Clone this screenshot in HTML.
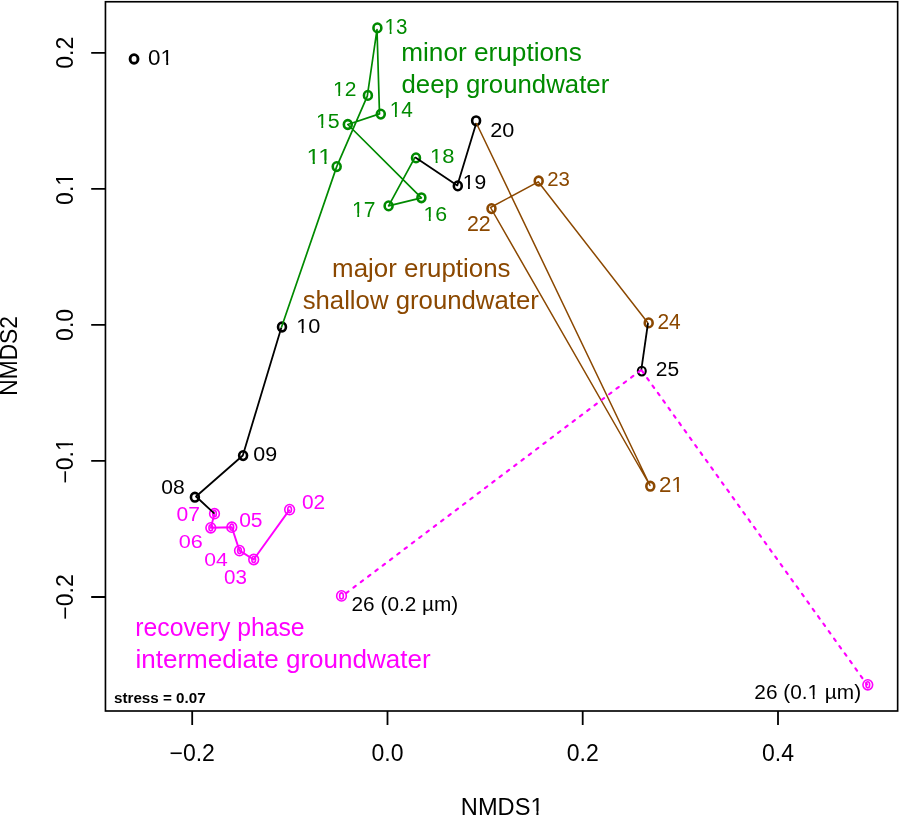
<!DOCTYPE html>
<html><head><meta charset="utf-8"><title>NMDS plot</title><style>html,body{margin:0;padding:0;background:#fff;overflow:hidden}svg{display:block;will-change:transform}</style></head><body>
<svg width="899" height="817" viewBox="0 0 899 817" font-family="Liberation Sans, sans-serif">
<defs><clipPath id="k1" clipPathUnits="userSpaceOnUse"><path clip-rule="evenodd" d="M-1000,-1000H1000V1000H-1000ZM13.050,-3.792H17.766V4.000H13.050ZM19.711,-3.792H24.255V4.000H19.711Z"/></clipPath><clipPath id="k2" clipPathUnits="userSpaceOnUse"><path clip-rule="evenodd" d="M-1000,-1000H1000V1000H-1000ZM0.737,-3.423H4.993V4.000H0.737ZM6.748,-3.423H10.850V4.000H6.748Z"/></clipPath><clipPath id="k3" clipPathUnits="userSpaceOnUse"><path clip-rule="evenodd" d="M-1000,-1000H1000V1000H-1000ZM0.796,-3.697H5.394V4.000H0.796ZM7.289,-3.697H15.730V4.000H7.289ZM17.625,-3.697H22.055V4.000H17.625Z"/></clipPath><clipPath id="k4" clipPathUnits="userSpaceOnUse"><path clip-rule="evenodd" d="M-1000,-1000H1000V1000H-1000ZM0.763,-3.546H5.173V4.000H0.763ZM6.991,-3.546H11.240V4.000H6.991Z"/></clipPath><clipPath id="k5" clipPathUnits="userSpaceOnUse"><path clip-rule="evenodd" d="M-1000,-1000H1000V1000H-1000ZM0.811,-3.767H5.496V4.000H0.811ZM7.428,-3.767H11.942V4.000H7.428Z"/></clipPath><clipPath id="k6" clipPathUnits="userSpaceOnUse"><path clip-rule="evenodd" d="M-1000,-1000H1000V1000H-1000ZM0.807,-3.747H5.467V4.000H0.807ZM7.388,-3.747H11.878V4.000H7.388Z"/></clipPath><clipPath id="k7" clipPathUnits="userSpaceOnUse"><path clip-rule="evenodd" d="M-1000,-1000H1000V1000H-1000ZM0.764,-3.547H5.175V4.000H0.764ZM6.994,-3.547H11.244V4.000H6.994Z"/></clipPath><clipPath id="k8" clipPathUnits="userSpaceOnUse"><path clip-rule="evenodd" d="M-1000,-1000H1000V1000H-1000ZM0.779,-3.620H5.281V4.000H0.779ZM7.137,-3.620H11.474V4.000H7.137Z"/></clipPath><clipPath id="k9" clipPathUnits="userSpaceOnUse"><path clip-rule="evenodd" d="M-1000,-1000H1000V1000H-1000ZM0.812,-3.772H5.503V4.000H0.812ZM7.437,-3.772H11.957V4.000H7.437Z"/></clipPath><clipPath id="k10" clipPathUnits="userSpaceOnUse"><path clip-rule="evenodd" d="M-1000,-1000H1000V1000H-1000ZM0.774,-3.595H5.245V4.000H0.774ZM7.088,-3.595H11.396V4.000H7.088Z"/></clipPath><clipPath id="k11" clipPathUnits="userSpaceOnUse"><path clip-rule="evenodd" d="M-1000,-1000H1000V1000H-1000ZM0.769,-3.570H5.209V4.000H0.769ZM7.040,-3.570H11.318V4.000H7.040Z"/></clipPath><clipPath id="k12" clipPathUnits="userSpaceOnUse"><path clip-rule="evenodd" d="M-1000,-1000H1000V1000H-1000ZM13.050,-3.792H17.766V4.000H13.050ZM19.711,-3.792H24.255V4.000H19.711Z"/></clipPath><clipPath id="k13" clipPathUnits="userSpaceOnUse"><path clip-rule="evenodd" d="M-1000,-1000H1000V1000H-1000ZM51.884,-3.447H56.171V4.000H51.884ZM57.939,-3.447H62.070V4.000H57.939Z"/></clipPath><clipPath id="k14" clipPathUnits="userSpaceOnUse"><path clip-rule="evenodd" d="M-1000,-1000H1000V1000H-1000ZM69.424,-4.014H74.416V4.000H69.424ZM76.474,-4.014H81.283V4.000H76.474Z"/></clipPath><clipPath id="k15" clipPathUnits="userSpaceOnUse"><path clip-rule="evenodd" d="M-1000,-1000H1000V1000H-1000ZM10.764,-3.964H15.694V4.000H10.764ZM17.727,-3.964H22.478V4.000H17.727Z"/></clipPath><clipPath id="k16" clipPathUnits="userSpaceOnUse"><path clip-rule="evenodd" d="M-1000,-1000H1000V1000H-1000ZM4.048,-3.964H8.979V4.000H4.048ZM11.011,-3.964H15.762V4.000H11.011Z"/></clipPath></defs>
<rect width="899" height="817" fill="#fff"/>
<ellipse cx="134.05" cy="58.95" rx="3.95" ry="4.35" fill="none" stroke="#000000" stroke-width="2.9"/>
<g fill="none" stroke="#FF00FF" stroke-width="1.6"><ellipse cx="289.6" cy="509.6" rx="4.85" ry="5.1"/><ellipse cx="289.6" cy="509.6" rx="1.85" ry="3.05"/></g>
<g fill="none" stroke="#FF00FF" stroke-width="1.6"><ellipse cx="253.7" cy="559.5" rx="4.85" ry="5.1"/><ellipse cx="253.7" cy="559.5" rx="1.85" ry="3.05"/></g>
<g fill="none" stroke="#FF00FF" stroke-width="1.6"><ellipse cx="239.5" cy="550.6" rx="4.85" ry="5.1"/><ellipse cx="239.5" cy="550.6" rx="1.85" ry="3.05"/></g>
<g fill="none" stroke="#FF00FF" stroke-width="1.6"><ellipse cx="231.8" cy="527.2" rx="4.85" ry="5.1"/><ellipse cx="231.8" cy="527.2" rx="1.85" ry="3.05"/></g>
<g fill="none" stroke="#FF00FF" stroke-width="1.6"><ellipse cx="210.8" cy="527.8" rx="4.85" ry="5.1"/><ellipse cx="210.8" cy="527.8" rx="1.85" ry="3.05"/></g>
<g fill="none" stroke="#FF00FF" stroke-width="1.6"><ellipse cx="214.5" cy="513.7" rx="4.85" ry="5.1"/><ellipse cx="214.5" cy="513.7" rx="1.85" ry="3.05"/></g>
<ellipse cx="194.9" cy="497.2" rx="3.95" ry="4.35" fill="none" stroke="#000000" stroke-width="2.6"/>
<ellipse cx="243.1" cy="455.6" rx="3.95" ry="4.35" fill="none" stroke="#000000" stroke-width="2.6"/>
<ellipse cx="282.0" cy="327.0" rx="3.95" ry="4.35" fill="none" stroke="#000000" stroke-width="2.6"/>
<ellipse cx="336.7" cy="166.6" rx="3.95" ry="4.35" fill="none" stroke="#008A00" stroke-width="2.6"/>
<ellipse cx="367.9" cy="95.4" rx="3.95" ry="4.35" fill="none" stroke="#008A00" stroke-width="2.6"/>
<ellipse cx="377.4" cy="27.9" rx="3.95" ry="4.35" fill="none" stroke="#008A00" stroke-width="2.6"/>
<ellipse cx="380.8" cy="114.1" rx="3.95" ry="4.35" fill="none" stroke="#008A00" stroke-width="2.6"/>
<ellipse cx="347.8" cy="124.5" rx="3.95" ry="4.35" fill="none" stroke="#008A00" stroke-width="2.6"/>
<ellipse cx="421.4" cy="197.8" rx="3.95" ry="4.35" fill="none" stroke="#008A00" stroke-width="2.6"/>
<ellipse cx="388.6" cy="205.9" rx="3.95" ry="4.35" fill="none" stroke="#008A00" stroke-width="2.6"/>
<ellipse cx="416.0" cy="157.9" rx="3.95" ry="4.35" fill="none" stroke="#008A00" stroke-width="2.6"/>
<ellipse cx="457.8" cy="185.9" rx="3.95" ry="4.35" fill="none" stroke="#000000" stroke-width="2.6"/>
<ellipse cx="476.1" cy="120.8" rx="3.95" ry="4.35" fill="none" stroke="#000000" stroke-width="2.6"/>
<ellipse cx="650.3" cy="486.2" rx="3.95" ry="4.35" fill="none" stroke="#8B4800" stroke-width="2.6"/>
<ellipse cx="491.5" cy="208.6" rx="3.95" ry="4.35" fill="none" stroke="#8B4800" stroke-width="2.6"/>
<ellipse cx="538.7" cy="181.0" rx="3.95" ry="4.35" fill="none" stroke="#8B4800" stroke-width="2.6"/>
<ellipse cx="648.7" cy="322.9" rx="3.95" ry="4.35" fill="none" stroke="#8B4800" stroke-width="2.6"/>
<ellipse cx="641.8" cy="371.1" rx="3.95" ry="4.35" fill="none" stroke="#000000" stroke-width="2.1"/>
<g fill="none" stroke="#FF00FF" stroke-width="1.6"><ellipse cx="341.5" cy="595.9" rx="4.85" ry="5.1"/><ellipse cx="341.5" cy="595.9" rx="1.85" ry="3.05"/></g>
<g fill="none" stroke="#FF00FF" stroke-width="1.6"><ellipse cx="867.8" cy="684.8" rx="4.85" ry="5.1"/><ellipse cx="867.8" cy="684.8" rx="1.85" ry="3.05"/></g>
<polyline points="289.6,509.6 253.7,559.5 239.5,550.6 231.8,527.2 210.8,527.8 214.5,513.7" fill="none" stroke="#FF00FF" stroke-width="1.9" stroke-linejoin="round"/>
<polyline points="214.5,513.7 196.0,496.5 242.8,455.5 281.3,327.8" fill="none" stroke="#000000" stroke-width="1.8" stroke-linejoin="round"/>
<polyline points="281.3,327.8 336.7,166.6 367.3,96.1 377.0,29.5 379.5,113.9 347.8,124.5 421.4,197.8 388.6,205.9 415.1,157.2" fill="none" stroke="#008A00" stroke-width="1.7" stroke-linejoin="round"/>
<polyline points="415.1,157.2 457.3,185.4 476.3,123.0" fill="none" stroke="#000000" stroke-width="1.8" stroke-linejoin="round"/>
<polyline points="476.3,123.0 650.0,485.5 490.5,207.5 538.2,181.8 648.0,323.0" fill="none" stroke="#8B4800" stroke-width="1.5" stroke-linejoin="round"/>
<polyline points="648.0,323.0 641.3,369.9" fill="none" stroke="#000000" stroke-width="1.8" stroke-linejoin="round"/>
<polyline points="641.3,369.9 341.5,596.7" fill="none" stroke="#FF00FF" stroke-width="2.15" stroke-linejoin="round" stroke-dasharray="2.8 6.36" stroke-dashoffset="-0.9" stroke-linecap="round"/>
<polyline points="641.3,369.9 867.0,684.5" fill="none" stroke="#FF00FF" stroke-width="2.15" stroke-linejoin="round" stroke-dasharray="2.8 6.36" stroke-dashoffset="-0.9" stroke-linecap="round"/>
<rect x="105.45" y="1.75" width="792.2" height="709.25" fill="none" stroke="#000" stroke-width="1.65"/>
<path d="M192.2,711.0V725M387.5,711.0V725M582.7,711.0V725M778.0,711.0V725M105.45,597.0H91.2M105.45,460.9H91.2M105.45,324.9H91.2M105.45,188.9H91.2M105.45,52.8H91.2" stroke="#000" stroke-width="1.8" fill="none"/>
<text transform="translate(148.102,64.7) scale(1.0207,1.0000)" font-size="22" clip-path="url(#k1)">01</text>
<text transform="translate(301.965,509.3) scale(1.0441,1.0000)" font-size="20" fill="#FF00FF">02</text>
<text transform="translate(223.977,584) scale(1.0594,1.0000)" font-size="19.429" fill="#FF00FF">03</text>
<text transform="translate(204.154,565.6) scale(1.1215,1.0000)" font-size="18.857" fill="#FF00FF">04</text>
<text transform="translate(239.157,527.4) scale(1.0687,1.0000)" font-size="19.714" fill="#FF00FF">05</text>
<text transform="translate(178.634,548.2) scale(1.1481,1.0000)" font-size="18.857" fill="#FF00FF">06</text>
<text transform="translate(176.457,520.8) scale(1.0539,1.0000)" font-size="20" fill="#FF00FF">07</text>
<text transform="translate(161.357,493.6) scale(1.0032,1.0000)" font-size="21">08</text>
<text transform="translate(253.341,461) scale(1.0434,1.0000)" font-size="20.571">09</text>
<text transform="translate(296.235,332.6) scale(1.0946,1.0000)" font-size="19.857" clip-path="url(#k2)">10</text>
<text transform="translate(306.594,163.9) scale(1.1318,1.0000)" font-size="21.449" fill="#008A00" clip-path="url(#k3)">11</text>
<text transform="translate(333.002,96.1) scale(1.0226,1.0000)" font-size="20.571" fill="#008A00" clip-path="url(#k4)">12</text>
<text transform="translate(384.551,33.6) scale(0.9385,1.0000)" font-size="21.857" fill="#008A00" clip-path="url(#k5)">13</text>
<text transform="translate(389.723,117.3) scale(0.9572,1.0000)" font-size="21.739" fill="#008A00" clip-path="url(#k6)">14</text>
<text transform="translate(315.973,128.4) scale(1.0366,1.0000)" font-size="20.58" fill="#008A00" clip-path="url(#k7)">15</text>
<text transform="translate(423.473,220.6) scale(1.0159,1.0000)" font-size="21" fill="#008A00" clip-path="url(#k8)">16</text>
<text transform="translate(352.002,216.8) scale(0.9613,1.0000)" font-size="21.884" fill="#008A00" clip-path="url(#k9)">17</text>
<text transform="translate(430.115,163) scale(1.0523,1.0000)" font-size="20.857" fill="#008A00" clip-path="url(#k10)">18</text>
<text transform="translate(462.692,188.5) scale(1.0203,1.0000)" font-size="20.714" clip-path="url(#k11)">19</text>
<text transform="translate(490.317,136.5) scale(1.0314,1.0000)" font-size="21">20</text>
<text transform="translate(658.882,491.9) scale(1.0167,1.0000)" font-size="22" fill="#8B4800" clip-path="url(#k12)">21</text>
<text transform="translate(466.931,231.1) scale(0.9914,1.0000)" font-size="21.571" fill="#8B4800">22</text>
<text transform="translate(547.28,186.3) scale(0.9711,1.0000)" font-size="21" fill="#8B4800">23</text>
<text transform="translate(657.452,328.9) scale(0.9784,1.0000)" font-size="21.429" fill="#8B4800">24</text>
<text transform="translate(655.851,376.3) scale(1.0416,1.0000)" font-size="20.143">25</text>
<text transform="translate(351.56,611) scale(0.9920,1.0000)" font-size="20.966">26 (0.2 µm)</text>
<text transform="translate(754.36,698.7) scale(1.0398,1.0000)" font-size="20" clip-path="url(#k13)">26 (0.1 µm)</text>
<text transform="translate(401.196,60.7) scale(0.9892,1.0000)" font-size="26.5" fill="#008A00">minor eruptions</text>
<text transform="translate(401.468,93) scale(0.9734,1.0000)" font-size="26.5" fill="#008A00">deep groundwater</text>
<text transform="translate(332.117,277) scale(0.9770,1.0000)" font-size="26.5" fill="#8B4800">major eruptions</text>
<text transform="translate(302.627,309) scale(0.9722,1.0000)" font-size="26.5" fill="#8B4800">shallow groundwater</text>
<text transform="translate(135.289,635.6) scale(0.9353,1.0000)" font-size="26.5" fill="#FF00FF">recovery phase</text>
<text transform="translate(135.407,667.7) scale(0.9829,1.0000)" font-size="26.5" fill="#FF00FF">intermediate groundwater</text>
<text transform="translate(113.968,703) scale(0.9861,1.0000)" font-size="15.429" font-weight="bold">stress = 0.07</text>
<text transform="translate(460.808,815) scale(1.0157,1.0000)" font-size="23.286" clip-path="url(#k14)">NMDS1</text>
<text transform="translate(192.2,760.8)" font-size="23" text-anchor="middle">−0.2</text>
<text transform="translate(387.5,760.8)" font-size="23" text-anchor="middle">0.0</text>
<text transform="translate(582.7,760.8)" font-size="23" text-anchor="middle">0.2</text>
<text transform="translate(778,760.8)" font-size="23" text-anchor="middle">0.4</text>
<text transform="translate(72.6,597) rotate(-90)" font-size="23" text-anchor="middle">−0.2</text>
<text transform="translate(72.6,460.9) rotate(-90)" font-size="23" text-anchor="middle" clip-path="url(#k15)">−0.1</text>
<text transform="translate(72.6,324.9) rotate(-90)" font-size="23" text-anchor="middle">0.0</text>
<text transform="translate(72.6,188.9) rotate(-90)" font-size="23" text-anchor="middle" clip-path="url(#k16)">0.1</text>
<text transform="translate(72.6,52.8) rotate(-90)" font-size="23" text-anchor="middle">0.2</text>
<text transform="translate(17.4,355.9) rotate(-90) scale(1.0000,1.0200)" font-size="22.8" text-anchor="middle">NMDS2</text>
</svg>
</body></html>
